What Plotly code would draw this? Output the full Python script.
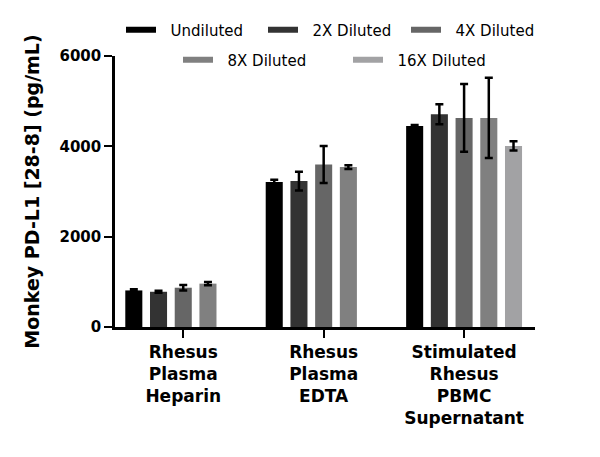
import plotly.graph_objects as go

categories = ["Rhesus<br>Plasma<br>Heparin", "Rhesus<br>Plasma<br>EDTA",
              "Stimulated<br>Rhesus<br>PBMC<br>Supernatant"]
series_names = ["Undiluted", "2X Diluted", "4X Diluted", "8X Diluted", "16X Diluted"]
undiluted = [810, 3210, 4450]
dil_2x = [780, 3230, 4710]
dil_4x = [870, 3600, 4630]
dil_8x = [960, 3540, 4630]
dil_16x = [None, None, 4010]
err_undiluted = [25, 50, 20]
err_2x = [20, 210, 220]
err_4x = [60, 410, 750]
err_8x = [35, 40, 890]
err_16x = [None, None, 100]
y_ticks = [0, 2000, 4000, 6000]

values = [undiluted, dil_2x, dil_4x, dil_8x, dil_16x]
errors = [err_undiluted, err_2x, err_4x, err_8x, err_16x]
colors = ["#000000", "#333333", "#666666", "#808080", "#a2a2a4"]
# legend entry placement (swatch left edge px, row centre px)
legend_left = [128, 270, 413, 185, 355]
legend_row = [30, 30, 30, 60, 60]

W, H = 600, 457
FONT = "DejaVu Sans"
NB = "\u00a0\u00a0"
fig = go.Figure()
for name, vals, errs, col in zip(series_names, values, errors, colors):
    fig.add_trace(go.Bar(
        x=categories, y=vals, name=name, marker_color=col, marker_line_width=0,
        error_y=dict(type="data", array=errs, visible=True, color="black",
                     thickness=2.5, width=4),
        showlegend=False,
    ))
legend_layout = {}
for i, (name, col, lx, ly) in enumerate(zip(series_names, colors, legend_left, legend_row)):
    lid = "legend" if i == 0 else f"legend{i + 1}"
    fig.add_trace(go.Scatter(
        x=[None], y=[None], mode="lines", name=NB + name,
        line=dict(color=col, width=6), legend=lid, showlegend=True,
    ))
    legend_layout[lid] = dict(
        orientation="h", xref="container", yref="container",
        x=(lx - 7) / W, xanchor="left", y=1 - ly / H, yanchor="middle",
        font=dict(size=15, family=FONT), bgcolor="rgba(0,0,0,0)",
    )

fig.update_layout(
    width=W, height=H,
    margin=dict(l=115, r=65, t=56, b=130, autoexpand=False),
    plot_bgcolor="white", paper_bgcolor="white",
    barmode="group", bargap=0.12, bargroupgap=0.31,
    font=dict(family=FONT, color="black"),
    **legend_layout,
)
fig.update_xaxes(
    range=[-0.486, 2.505], showline=True, linecolor="black", linewidth=2.5,
    ticks="outside", ticklen=8, tickwidth=2, tickcolor="black",
    tickfont=dict(size=17, family=FONT, weight="bold"), showgrid=False,
)
fig.update_yaxes(
    range=[0, 6000], tickvals=y_ticks, showline=True, linecolor="black", linewidth=2.5,
    ticks="outside", ticklen=8, tickwidth=2, tickcolor="black",
    tickfont=dict(size=15, family=FONT, weight="bold"), showgrid=False, zeroline=False,
    title=dict(text="Monkey PD-L1 [28-8] (pg/mL)", font=dict(size=19, family=FONT, weight="bold")),
)
fig.write_html("out.html")
